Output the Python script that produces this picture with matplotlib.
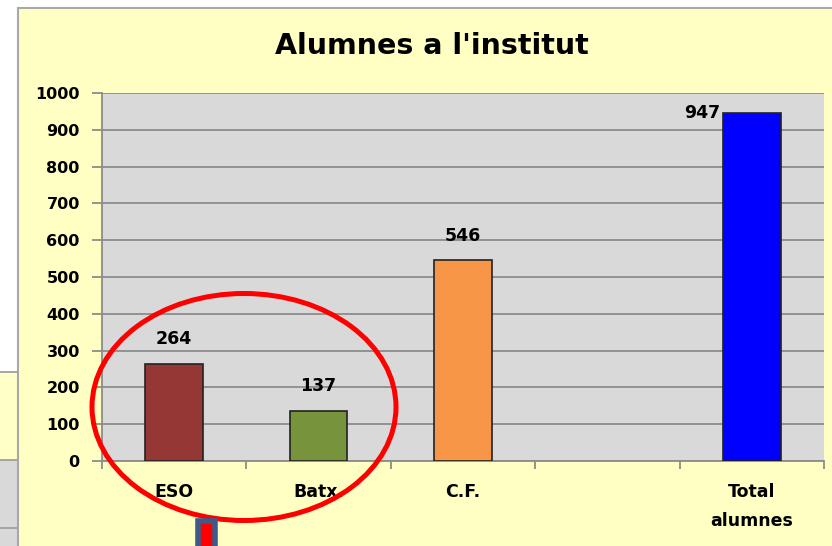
import numpy as np
import matplotlib.pyplot as plt
from matplotlib.patches import Rectangle, Ellipse

# Data
categories = ['ESO', 'Batx.', 'C.F.', '', 'Total\nalumnes']
values = [264, 137, 546, None, 947]
colors = ['#953735', '#77933C', '#F79646', None, '#0000FF']
yticks = np.arange(0, 1001, 100)

W, H = 832, 546
fig = plt.figure(figsize=(W / 100, H / 100), dpi=100)
fig.patch.set_facecolor('white')


def px(x0, y0, x1, y1):
    # pixel box (top-left origin) -> figure fraction rect
    return (x0 / W, 1 - y1 / H, (x1 - x0) / W, (y1 - y0) / H)


# background pieces of the screenshot
bg = fig.add_axes([0, 0, 1, 1])
bg.set_xlim(0, W)
bg.set_ylim(H, 0)
bg.axis('off')
bg.add_patch(Rectangle((0, 372), 17, 88, facecolor='#FFFFC8', edgecolor='none'))
bg.add_patch(Rectangle((0, 460), 17, 86, facecolor='#D9D9D9', edgecolor='none'))
for yy in [372, 460, 528]:
    bg.plot([0, 17], [yy, yy], color='#A0A0A0', lw=1.3)
bg.add_patch(Rectangle((18, 8), W, H, facecolor='#FFFFC4', edgecolor='#A8A8A8', lw=1.5))

# chart
ax = fig.add_axes(px(102, 93, 824, 461))
ax.set_facecolor('#D9D9D9')
x = np.arange(len(categories))
for i, (v, c) in enumerate(zip(values, colors)):
    if v is None:
        continue
    ax.bar(x[i], v, width=0.4, color=c, edgecolor='#222222', linewidth=1.2, zorder=3)
    if i == len(categories) - 1:
        ax.text(x[i] - 0.22, v, str(v), ha='right', va='center',
                fontsize=12.5, fontweight='bold')
    else:
        ax.text(x[i], v + 42, str(v), ha='center', va='bottom',
                fontsize=12.5, fontweight='bold')

ax.set_xlim(-0.5, len(categories) - 0.5)
ax.set_ylim(0, 1000)
ax.set_yticks(yticks)
ax.set_yticklabels([str(t) for t in yticks], fontsize=11.5, fontweight='bold')
ax.yaxis.grid(True, color='#8C8C8C', linewidth=1.3, zorder=1)
ax.set_axisbelow(True)
ax.set_xticks(np.arange(-0.5, len(categories), 1.0))
ax.set_xticklabels([])
ax.set_xticks(x, minor=True)
ax.set_xticklabels(categories, minor=True, fontsize=12.5, fontweight='bold',
                   linespacing=1.75, va='top')
ax.tick_params(axis='x', which='major', length=6, color='#8C8C8C', width=1.3)
ax.tick_params(axis='x', which='minor', length=0, pad=16)
ax.tick_params(axis='y', length=7, color='#8C8C8C', width=1.3, pad=9)
for s in ['top', 'right']:
    ax.spines[s].set_visible(False)
for s in ['left', 'bottom']:
    ax.spines[s].set_color('#8C8C8C')
    ax.spines[s].set_linewidth(1.3)

fig.text(432 / W, 1 - 46 / H, "Alumnes a l'institut", ha='center', va='center',
         fontsize=20.5, fontweight='bold')

# annotations drawn over the screenshot
top = fig.add_axes([0, 0, 1, 1])
top.set_xlim(0, W)
top.set_ylim(H, 0)
top.axis('off')
top.add_patch(Ellipse((244, 407), 304, 227, fill=False, edgecolor='#FF0000', lw=3.6))
top.add_patch(Rectangle((198, 521), 17, 30, facecolor='#FF0000', edgecolor='#3C5A8A', lw=4))

fig.savefig('out.png', dpi=100)
